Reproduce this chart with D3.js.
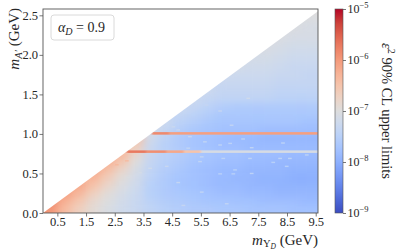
<!DOCTYPE html>
<html>
<head>
<meta charset="utf-8">
<script src="https://cdn.jsdelivr.net/npm/d3@7"></script>
<style>
  html, body { margin: 0; padding: 0; background: #fff; }
  svg { display: block; }
  text { font-family: "Liberation Serif", "DejaVu Serif", serif; fill: #262626; }
</style>
</head>
<body>
<svg id="chart" width="399" height="252"></svg>
<script>
// m_Upsilon_D bin centres (GeV), bins 0.5 GeV wide
const mUps = [0.25, 0.75, 1.25, 1.75, 2.25, 2.75, 3.25, 3.75, 4.25, 4.75,
              5.25, 5.75, 6.25, 6.75, 7.25, 7.75, 8.25, 8.75, 9.25, 9.75];
// m_A' bin centres (GeV), bins 0.1 GeV tall
const mA = [0.05, 0.15, 0.25, 0.35, 0.45, 0.55, 0.65, 0.75, 0.85, 0.95,
            1.05, 1.15, 1.25, 1.35, 1.45, 1.55, 1.65, 1.75, 1.85, 1.95,
            2.05, 2.15, 2.25, 2.35, 2.45, 2.55];
// log10(eps^2) limit, one list per m_Upsilon_D column, from m_A' = 0 upwards
const logLimit = [
  [-5.95, -5.85],
  [-6.4, -6.25, -6.05],
  [-6.7, -6.55, -6.35, -6.15],
  [-6.92, -6.85, -6.7, -6.5, -6.3, -6.15],
  [-7.07, -7.02, -6.95, -6.8, -6.65, -6.45, -6.25],
  [-7.2, -7.17, -7.12, -7.05, -6.95, -6.8, -6.55, -6.35],
  [-7.3, -7.3, -7.27, -7.22, -7.17, -7.1, -7.0, -6.85, -6.65, -6.45],
  [-7.4, -7.45, -7.5, -7.5, -7.45, -7.4, -7.35, -7.3, -7.3, -7.2, -7.1],
  [-7.5, -7.55, -7.6, -7.6, -7.6, -7.55, -7.5, -7.45, -7.5, -7.45, -7.35, -7.25],
  [-7.55, -7.6, -7.65, -7.7, -7.7, -7.65, -7.6, -7.55, -7.6, -7.6, -7.55, -7.45, -7.35, -7.25],
  [-7.6, -7.65, -7.7, -7.75, -7.75, -7.75, -7.7, -7.65, -7.7, -7.7, -7.65, -7.55, -7.45, -7.35, -7.25],
  [-7.6, -7.7, -7.75, -7.8, -7.8, -7.8, -7.75, -7.7, -7.75, -7.75, -7.7, -7.65, -7.55, -7.45, -7.35, -7.25],
  [-7.65, -7.7, -7.8, -7.85, -7.85, -7.85, -7.8, -7.75, -7.8, -7.8, -7.75, -7.7, -7.65, -7.55, -7.4, -7.35, -7.3, -7.2],
  [-7.65, -7.75, -7.8, -7.85, -7.9, -7.85, -7.8, -7.75, -7.8, -7.85, -7.75, -7.7, -7.65, -7.6, -7.4, -7.35, -7.3, -7.25, -7.15],
  [-7.7, -7.75, -7.85, -7.9, -7.9, -7.9, -7.85, -7.8, -7.85, -7.85, -7.75, -7.7, -7.65, -7.6, -7.4, -7.35, -7.3, -7.25, -7.2, -7.15],
  [-7.7, -7.8, -7.85, -7.9, -7.95, -7.9, -7.85, -7.8, -7.85, -7.9, -7.8, -7.7, -7.65, -7.6, -7.4, -7.35, -7.3, -7.25, -7.2, -7.15, -7.1, -7.05],
  [-7.7, -7.8, -7.9, -7.95, -7.95, -7.9, -7.9, -7.8, -7.85, -7.9, -7.8, -7.7, -7.65, -7.6, -7.45, -7.4, -7.35, -7.3, -7.25, -7.2, -7.15, -7.1, -7.05],
  [-7.75, -7.8, -7.9, -7.95, -8.0, -7.95, -7.9, -7.85, -7.85, -7.9, -7.8, -7.7, -7.65, -7.6, -7.45, -7.4, -7.35, -7.3, -7.3, -7.25, -7.2, -7.15, -7.1, -7.05],
  [-7.75, -7.85, -7.9, -7.95, -8.0, -7.95, -7.9, -7.85, -7.85, -7.9, -7.8, -7.75, -7.65, -7.6, -7.45, -7.4, -7.35, -7.35, -7.3, -7.25, -7.2, -7.15, -7.1, -7.1, -7.05, -7.0],
  [-7.75, -7.85, -7.9, -7.95, -8.0, -7.95, -7.9, -7.85, -7.85, -7.9, -7.8, -7.75, -7.65, -7.6, -7.45, -7.4, -7.35, -7.35, -7.3, -7.25, -7.2, -7.15, -7.1, -7.1, -7.05, -7.0]
];
// kinematic edge of the scanned region
const edgeX = [0, 9.58];
const edgeY = [0, 2.55];
// narrow resonance bands
const bandX0 = [2.92, 3.6, 4.3, 4.9, 5.5, 3.79, 4.4];
const bandX1 = [3.6, 4.3, 4.9, 5.5, 9.58, 4.4, 9.58];
const bandY = [0.776, 0.776, 0.776, 0.776, 0.776, 1.007, 1.007];
const bandL = [-5.7, -5.9, -6.15, -6.5, -7.1, -5.85, -6.05];
// isolated weaker-limit points
const spotX = [5.70, 6.17, 7.15, 6.57, 6.97, 7.27, 8.36, 6.17, 6.52, 8.26, 8.6, 7.21, 6.28, 8.02, 8.49,
               6.69, 6.17, 6.63, 7.27, 5.53, 6.4, 9.19, 4.54, 4.71, 5.12, 5.64, 5.06, 5.53, 5.47, 4.31,
               3.73, 3.38, 2.97, 4.71, 2.92, 2.57, 4.89];
const spotY = [1.364, 1.29, 1.45, 1.11, 0.936, 0.826, 0.885, 0.86, 0.88, 0.69, 0.69, 0.69, 0.69, 0.64, 0.59,
               0.545, 0.495, 0.495, 0.50, 0.264, 0.117, 0.734, 1.09, 1.05, 0.965, 0.90, 0.82, 0.71, 0.65, 0.59,
               0.565, 0.51, 0.45, 0.385, 0.66, 0.61, 0.096];
const spotL = [-7.35, -7.35, -7.2, -7.4, -7.45, -7.4, -7.45, -7.45, -7.45, -7.45, -7.45, -7.45, -7.45, -7.5, -7.5,
               -7.5, -7.5, -7.5, -7.45, -7.4, -7.4, -7.45, -7.3, -7.3, -7.35, -7.4, -7.4, -7.4, -7.4, -7.3,
               -7.2, -7.15, -7.05, -7.35, -6.4, -6.35, -7.35];
const xTicks = [0.5, 1.5, 2.5, 3.5, 4.5, 5.5, 6.5, 7.5, 8.5, 9.5];
const yTicks = [0, 0.5, 1, 1.5, 2, 2.5];
const cbTicks = [1e-9, 1e-8, 1e-7, 1e-6, 1e-5];

const coolwarm = ["#3b4cc0", "#4d68d7", "#6282ea", "#779af7", "#8db0fe", "#a3c2ff", "#b8d0f9", "#ccd9ee",
                  "#dddddd", "#ecd3c5", "#f5c4ac", "#f7b194", "#f49a7b", "#ec7f63", "#de604d", "#cb3e38", "#b40426"];
const serif = "'Liberation Serif', 'DejaVu Serif', serif";

const svg = d3.select("#chart");
const x = d3.scaleLinear().domain([0, 9.58]).range([43, 318]);
const y = d3.scaleLinear().domain([0, 2.58]).range([213, 9]);
const color = d3.scaleSequential(d3.piecewise(d3.interpolateRgb, coolwarm)).domain([-9, -5]);

const defs = svg.append("defs");
defs.append("clipPath").attr("id", "region")
  .append("path")
  .attr("d", d3.line()([[x(edgeX[0]), y(edgeY[0])], [x(edgeX[1]), y(edgeY[1])], [x(edgeX[1]), y(0)]]) + "Z");

const smooth = defs.append("filter").attr("id", "smooth")
  .attr("filterUnits", "userSpaceOnUse")
  .attr("x", 20).attr("y", 0).attr("width", 330).attr("height", 240)
  .attr("color-interpolation-filters", "sRGB");
smooth.append("feGaussianBlur").attr("stdDeviation", "5 3");
smooth.append("feComponentTransfer")
  .append("feFuncA").attr("type", "linear").attr("slope", 0).attr("intercept", 1);

const soft = defs.append("filter").attr("id", "soft")
  .attr("filterUnits", "userSpaceOnUse")
  .attr("x", 20).attr("y", 0).attr("width", 330).attr("height", 240);
soft.append("feGaussianBlur").attr("stdDeviation", "0.8 0.45");

const cells = [];
logLimit.forEach((col, i) => col.forEach((v, j) => cells.push({ mu: mUps[i], ma: mA[j], v })));

const heat = svg.append("g").attr("clip-path", "url(#region)");
heat.append("g").attr("filter", "url(#smooth)")
  .selectAll("rect").data(cells).join("rect")
  .attr("x", d => x(d.mu - 0.25))
  .attr("y", d => y(d.ma + 0.05))
  .attr("width", d => x(d.mu + 0.25) - x(d.mu - 0.25) + 0.5)
  .attr("height", d => y(d.ma - 0.05) - y(d.ma + 0.05) + 0.5)
  .attr("fill", d => color(d.v));

heat.append("g").selectAll("rect").data(spotX).join("rect")
  .attr("x", d => x(d - 0.065))
  .attr("y", (d, i) => y(spotY[i] + 0.009))
  .attr("width", d => x(d + 0.065) - x(d - 0.065))
  .attr("height", (d, i) => y(spotY[i] - 0.009) - y(spotY[i] + 0.009))
  .attr("fill", (d, i) => color(spotL[i]));

heat.append("g").attr("filter", "url(#soft)")
  .selectAll("rect").data(bandX0).join("rect")
  .attr("x", d => x(d))
  .attr("y", (d, i) => y(bandY[i] + 0.016))
  .attr("width", (d, i) => x(bandX1[i]) - x(d) + 0.3)
  .attr("height", (d, i) => y(bandY[i] - 0.016) - y(bandY[i] + 0.016))
  .attr("fill", (d, i) => color(bandL[i]));

// axes
const xAxis = svg.append("g").attr("transform", `translate(0,${y(0)})`)
  .call(d3.axisBottom(x).tickValues(xTicks).tickFormat(d3.format(".1f")).tickSize(3.5).tickPadding(0.5));
const yAxis = svg.append("g").attr("transform", `translate(${x(0)},0)`)
  .call(d3.axisLeft(y).tickValues(yTicks).tickFormat(d3.format(".1f")).tickSize(3.5).tickPadding(1.5));
[xAxis, yAxis].forEach(g => {
  g.attr("font-family", serif).attr("font-size", 12.5);
  g.select(".domain").remove();
  g.selectAll(".tick line").attr("stroke", "#555").attr("stroke-width", 0.8);
  g.selectAll(".tick text").attr("fill", "#262626");
});

svg.append("rect")
  .attr("x", x(0)).attr("y", y(2.58))
  .attr("width", x(9.58) - x(0)).attr("height", y(0) - y(2.58))
  .attr("fill", "none").attr("stroke", "#555").attr("stroke-width", 0.9);

// axis titles
const xt = svg.append("text").attr("x", x(9.58)).attr("y", 244.5)
  .attr("text-anchor", "end").attr("font-size", 15);
xt.append("tspan").attr("font-style", "italic").text("m");
xt.append("tspan").attr("font-size", 10.5).attr("dy", 2.5).text("Υ");
xt.append("tspan").attr("font-size", 7.5).attr("dy", 1.5).attr("font-style", "italic").text("D");
xt.append("tspan").attr("dy", -4).text(" (GeV)");

const yt = svg.append("text").attr("transform", `translate(19,${y(2.58) - 1}) rotate(-90)`)
  .attr("text-anchor", "end").attr("font-size", 15);
yt.append("tspan").attr("font-style", "italic").text("m");
yt.append("tspan").attr("font-size", 10.5).attr("dy", 3).attr("font-style", "italic").text("A′");
yt.append("tspan").attr("dy", -3).text(" (GeV)");

// legend box
svg.append("rect").attr("x", 51).attr("y", 15).attr("width", 63).attr("height", 25).attr("rx", 3)
  .attr("fill", "#fff").attr("fill-opacity", 0.85).attr("stroke", "#d6d6d6").attr("stroke-width", 0.9);
const lt = svg.append("text").attr("x", 58).attr("y", 32).attr("font-size", 14);
lt.append("tspan").attr("font-style", "italic").text("α");
lt.append("tspan").attr("font-size", 10).attr("dy", 3).attr("font-style", "italic").text("D");
lt.append("tspan").attr("dy", -3).text(" = 0.9");

// colour bar
const cb = d3.scaleLog().domain([1e-9, 1e-5]).range([213, 9]);
const grad = defs.append("linearGradient").attr("id", "cbgrad")
  .attr("x1", 0).attr("y1", 1).attr("x2", 0).attr("y2", 0);
d3.range(0, 1.0001, 0.025).forEach(t => {
  grad.append("stop").attr("offset", t).attr("stop-color", color(-9 + 4 * t));
});
svg.append("rect").attr("x", 335).attr("y", cb(1e-5))
  .attr("width", 8).attr("height", cb(1e-9) - cb(1e-5))
  .attr("fill", "url(#cbgrad)").attr("stroke", "#555").attr("stroke-width", 0.6);

const cbAxis = svg.append("g").attr("transform", "translate(343,0)")
  .call(d3.axisRight(cb).tickValues(cbTicks).tickSize(3).tickPadding(1.5));
cbAxis.attr("font-family", serif).attr("font-size", 12);
cbAxis.select(".domain").remove();
cbAxis.selectAll(".tick line").attr("stroke", "#555").attr("stroke-width", 0.8);
cbAxis.selectAll(".tick text").attr("fill", "#262626")
  .text(null)
  .each(function (d) {
    const t = d3.select(this);
    t.append("tspan").text("10");
    t.append("tspan").attr("font-size", 8.5).attr("dy", -5).text("−" + Math.round(-Math.log10(d)));
  });

const ct = svg.append("text").attr("transform", `translate(382,${(cb(1e-5) + cb(1e-9)) / 2}) rotate(90)`)
  .attr("text-anchor", "middle").attr("font-size", 14.5);
ct.append("tspan").attr("font-style", "italic").text("ε");
ct.append("tspan").attr("font-size", 10).attr("dy", -5.5).text("2");
ct.append("tspan").attr("dy", 5.5).text(" 90% CL upper limits");
</script>
</body>
</html>
